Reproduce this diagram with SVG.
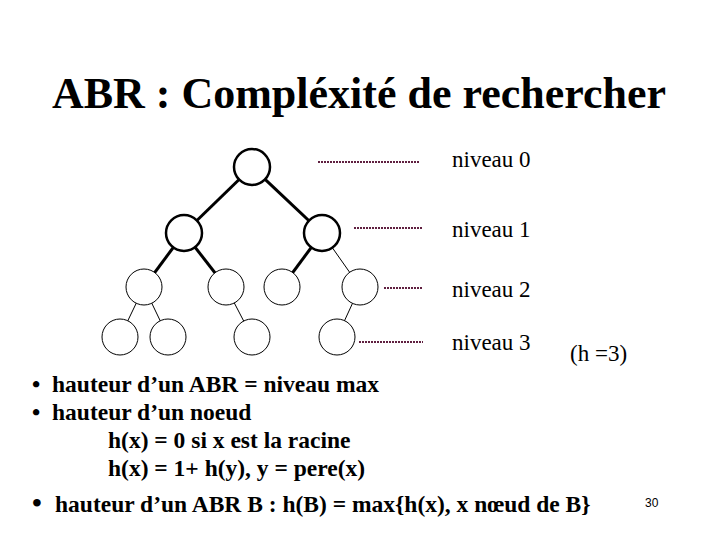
<svg xmlns="http://www.w3.org/2000/svg" width="720" height="540" viewBox="0 0 720 540">
<style>
text{font-family:"Liberation Serif",serif;fill:#000}
.t{font-size:44px;font-weight:bold}
.l{font-size:23px}
.b{font-size:23.5px;font-weight:bold}
.n{fill:#fff;stroke:#000}
.thick{stroke:#000;stroke-width:3}
.thin{stroke:#000;stroke-width:1}
.dot{stroke:#602040;stroke-width:2;stroke-dasharray:2 1}
</style>
<rect width="720" height="540" fill="#fff"/>
<text class="t" x="359" y="108" text-anchor="middle">ABR : Compléxité de rechercher</text>
<g id="connectors">
<line class="thick" x1="252" y1="167" x2="184" y2="233"/>
<line class="thick" x1="252" y1="167" x2="322" y2="233"/>
<line class="thick" x1="184" y1="233" x2="144" y2="287"/>
<line class="thick" x1="184" y1="233" x2="226" y2="287"/>
<line class="thick" x1="322" y1="233" x2="282" y2="287"/>
<line class="thin" x1="322" y1="233" x2="360" y2="287"/>
<line class="thin" x1="144" y1="287" x2="120" y2="337"/>
<line class="thin" x1="144" y1="287" x2="168" y2="337"/>
<line class="thin" x1="226" y1="287" x2="252" y2="337"/>
<line class="thin" x1="360" y1="287" x2="337" y2="337"/>
<line class="dot" x1="318" y1="162" x2="420" y2="162"/>
<line class="dot" x1="354" y1="228" x2="422" y2="228"/>
<line class="dot" x1="384" y1="288" x2="422" y2="288"/>
<line class="dot" x1="359" y1="342" x2="423" y2="342"/>
</g>
<g id="n0"><circle class="n" cx="252" cy="167" r="18" stroke-width="2.5"/></g>
<g id="n1"><circle class="n" cx="184" cy="233" r="18" stroke-width="2.5"/></g>
<g id="n2"><circle class="n" cx="322" cy="233" r="18" stroke-width="2.5"/></g>
<g id="n3"><circle class="n" cx="144" cy="287" r="18"/></g>
<g id="n4"><circle class="n" cx="226" cy="287" r="18"/></g>
<g id="n5"><circle class="n" cx="282" cy="287" r="18"/></g>
<g id="n6"><circle class="n" cx="360" cy="287" r="18"/></g>
<g id="n7"><circle class="n" cx="120" cy="337" r="18"/></g>
<g id="n8"><circle class="n" cx="168" cy="337" r="18"/></g>
<g id="n9"><circle class="n" cx="252" cy="337" r="18"/></g>
<g id="n10"><circle class="n" cx="337" cy="337" r="18"/></g>
<text class="l" x="452" y="167">niveau 0</text>
<text class="l" x="452" y="237">niveau 1</text>
<text class="l" x="452" y="297">niveau 2</text>
<text class="l" x="452" y="350">niveau 3</text>
<text class="l" x="570" y="361">(h =3)</text>
<text class="b" x="32" y="392">•</text><text class="b" x="52" y="392">hauteur d’un ABR = niveau max</text>
<text class="b" x="32" y="420">•</text><text class="b" x="52" y="420">hauteur d’un noeud</text>
<text class="b" x="108" y="448">h(x) = 0 si x est la racine</text>
<text class="b" x="108" y="476">h(x) = 1+ h(y), y = pere(x)</text>
<text class="b" x="32" y="512" style="font-size:28px">•</text><text class="b" x="55" y="512">hauteur d’un ABR B : h(B) = max{h(x), x nœud de B}</text>
<text x="645" y="507" style="font-family:'Liberation Sans',sans-serif;font-size:12px">30</text>
</svg>
